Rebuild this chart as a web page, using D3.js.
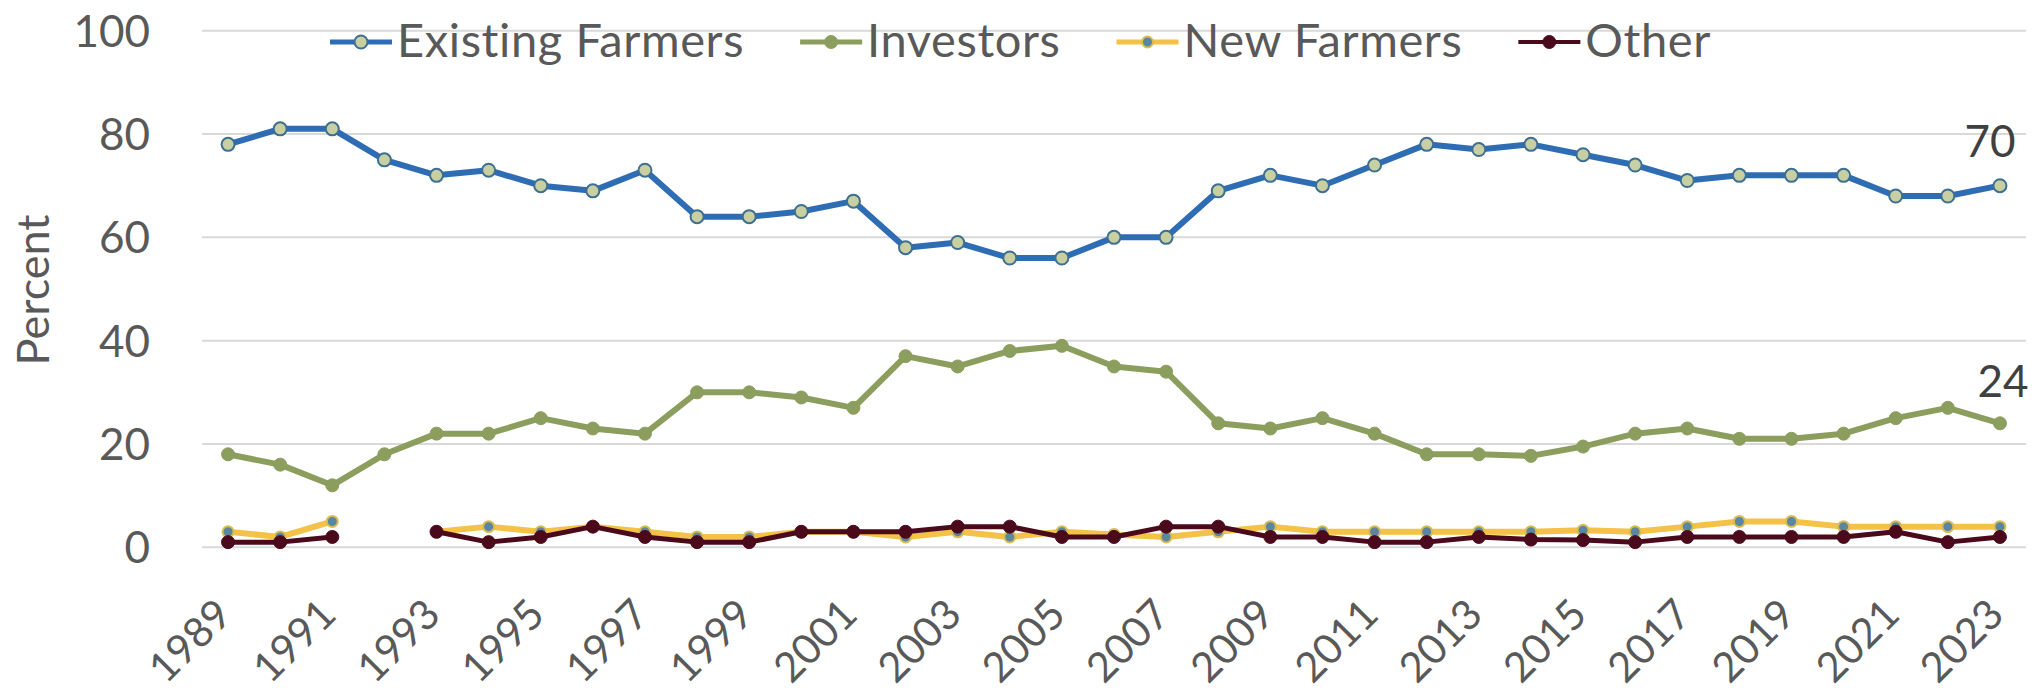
<!DOCTYPE html>
<html>
<head>
<meta charset="utf-8">
<script src="https://cdn.jsdelivr.net/npm/d3@7"></script>
<style>
  html, body { margin: 0; padding: 0; background: #fff; }
  svg { display: block; font-family: Lato, "Open Sans", sans-serif; }
</style>
</head>
<body>
<div id="chart"></div>
<script>
// Data (percent of buyers)
const years = [1989, 1990, 1991, 1992, 1993, 1994, 1995, 1996, 1997, 1998,
  1999, 2000, 2001, 2002, 2003, 2004, 2005, 2006, 2007, 2008,
  2009, 2010, 2011, 2012, 2013, 2014, 2015, 2016, 2017, 2018,
  2019, 2020, 2021, 2022, 2023];

const existingFarmers = [78, 81, 81, 75, 72, 73, 70, 69, 73, 64,
  64, 65, 67, 58, 59, 56, 56, 60, 60, 69,
  72, 70, 74, 78, 77, 78, 76, 74, 71, 72,
  72, 72, 68, 68, 70];

const investors = [18, 16, 12, 18, 22, 22, 25, 23, 22, 30,
  30, 29, 27, 37, 35, 38, 39, 35, 34, 24,
  23, 25, 22, 18, 18, 17.7, 19.5, 22, 23, 21,
  21, 22, 25, 27, 24];

// 1992 has no value for these two series
const newFarmers = [3, 2, 5, null, 3, 4, 3, 4, 3, 2,
  2, 3, 3, 2, 3, 2, 3, 2.5, 2, 3,
  4, 3, 3, 3, 3, 3, 3.3, 3, 4, 5,
  5, 4, 4, 4, 4];

const other = [1, 1, 2, null, 3, 1, 2, 4, 2, 1,
  1, 3, 3, 3, 4, 4, 2, 2, 4, 4,
  2, 2, 1, 1, 2, 1.5, 1.4, 1, 2, 2,
  2, 2, 3, 1, 2];

const yTicks = [0, 20, 40, 60, 80, 100];
const xTickLabels = ["1989", "1991", "1993", "1995", "1997", "1999", "2001", "2003",
  "2005", "2007", "2009", "2011", "2013", "2015", "2017", "2019", "2021", "2023"];

const seriesNames = ["Existing Farmers", "Investors", "New Farmers", "Other"];
const seriesValues = [existingFarmers, investors, newFarmers, other];
const endLabels = [{ series: 0, text: "70" }, { series: 1, text: "24" }];

// styling per series
const styles = [
  { line: "#2e6db4", width: 6, fill: "#c8cfa2", stroke: "#3d6f92", r: 6.5, sw: 2 },
  { line: "#8c9e5e", width: 6, fill: "#8c9e5e", stroke: "#8c9e5e", r: 6.5, sw: 1 },
  { line: "#f3c246", width: 6, fill: "#5b86a0", stroke: "#d9bd52", r: 5.5, sw: 2 },
  { line: "#4a0a1c", width: 5, fill: "#4a0a1c", stroke: "#4a0a1c", r: 6.5, sw: 1 }
];

const W = 2041, H = 691;
const plot = { left: 202, right: 2026, top: 30.7, bottom: 547.3 };

const svg = d3.select("#chart")
  .append("svg")
  .attr("width", W)
  .attr("height", H);

const x = d3.scalePoint()
  .domain(years)
  .range([plot.left, plot.right])
  .padding(0.5);

const y = d3.scaleLinear()
  .domain([0, 100])
  .range([plot.bottom, plot.top]);

// gridlines
svg.append("g")
  .selectAll("line")
  .data(yTicks)
  .join("line")
  .attr("x1", plot.left)
  .attr("x2", plot.right)
  .attr("y1", d => y(d))
  .attr("y2", d => y(d))
  .attr("stroke", "#d9d9d9")
  .attr("stroke-width", 2);

// y axis labels
svg.append("g")
  .selectAll("text")
  .data(yTicks)
  .join("text")
  .attr("x", 150)
  .attr("y", d => y(d))
  .attr("dy", "0.36em")
  .attr("text-anchor", "end")
  .attr("font-size", 44)
  .attr("fill", "#595959")
  .text(d => d);

// x axis labels (every other year)
svg.append("g")
  .selectAll("text")
  .data(xTickLabels)
  .join("text")
  .attr("transform", d => `translate(${x(+d) + 6},617) rotate(-45)`)
  .attr("text-anchor", "end")
  .attr("font-size", 41.5)
  .attr("fill", "#595959")
  .text(d => d);

// y axis title
svg.append("text")
  .attr("transform", "translate(49,290) rotate(-90)")
  .attr("text-anchor", "middle")
  .attr("font-size", 45)
  .attr("fill", "#595959")
  .text("Percent");

// series lines + markers
const line = d3.line()
  .defined(d => d.v != null)
  .x(d => x(d.year))
  .y(d => y(d.v));

seriesValues.forEach((vals, i) => {
  const st = styles[i];
  const pts = years.map((yr, j) => ({ year: yr, v: vals[j] }));
  const g = svg.append("g");

  g.append("path")
    .datum(pts)
    .attr("d", line)
    .attr("fill", "none")
    .attr("stroke", st.line)
    .attr("stroke-width", st.width)
    .attr("stroke-linejoin", "round");

  g.selectAll("circle")
    .data(pts.filter(d => d.v != null))
    .join("circle")
    .attr("cx", d => x(d.year))
    .attr("cy", d => y(d.v))
    .attr("r", st.r)
    .attr("fill", st.fill)
    .attr("stroke", st.stroke)
    .attr("stroke-width", st.sw);
});

// end value labels
const endDx = [-10, 3];
const endDy = [-29, -26];
endLabels.forEach((lab, k) => {
  const vals = seriesValues[lab.series];
  const last = years.length - 1;
  svg.append("text")
    .attr("x", x(years[last]) + endDx[k])
    .attr("y", y(vals[last]) + endDy[k])
    .attr("text-anchor", "middle")
    .attr("font-size", 44)
    .attr("fill", "#404040")
    .text(lab.text);
});

// legend
const legend = svg.append("g");
let lx = 330;
seriesNames.forEach((name, i) => {
  const st = styles[i];
  const item = legend.append("g").attr("transform", `translate(${lx},0)`);
  item.append("line")
    .attr("x1", 0).attr("x2", 62)
    .attr("y1", 42).attr("y2", 42)
    .attr("stroke", st.line)
    .attr("stroke-width", st.width - 1);
  item.append("circle")
    .attr("cx", 31).attr("cy", 42)
    .attr("r", st.r)
    .attr("fill", st.fill)
    .attr("stroke", st.stroke)
    .attr("stroke-width", st.sw);
  const t = item.append("text")
    .attr("x", 67)
    .attr("y", 57)
    .attr("font-size", 47)
    .attr("letter-spacing", 0.6)
    .attr("fill", "#595959")
    .text(name);
  lx += 67 + t.node().getComputedTextLength() + 56;
});
</script>
</body>
</html>
